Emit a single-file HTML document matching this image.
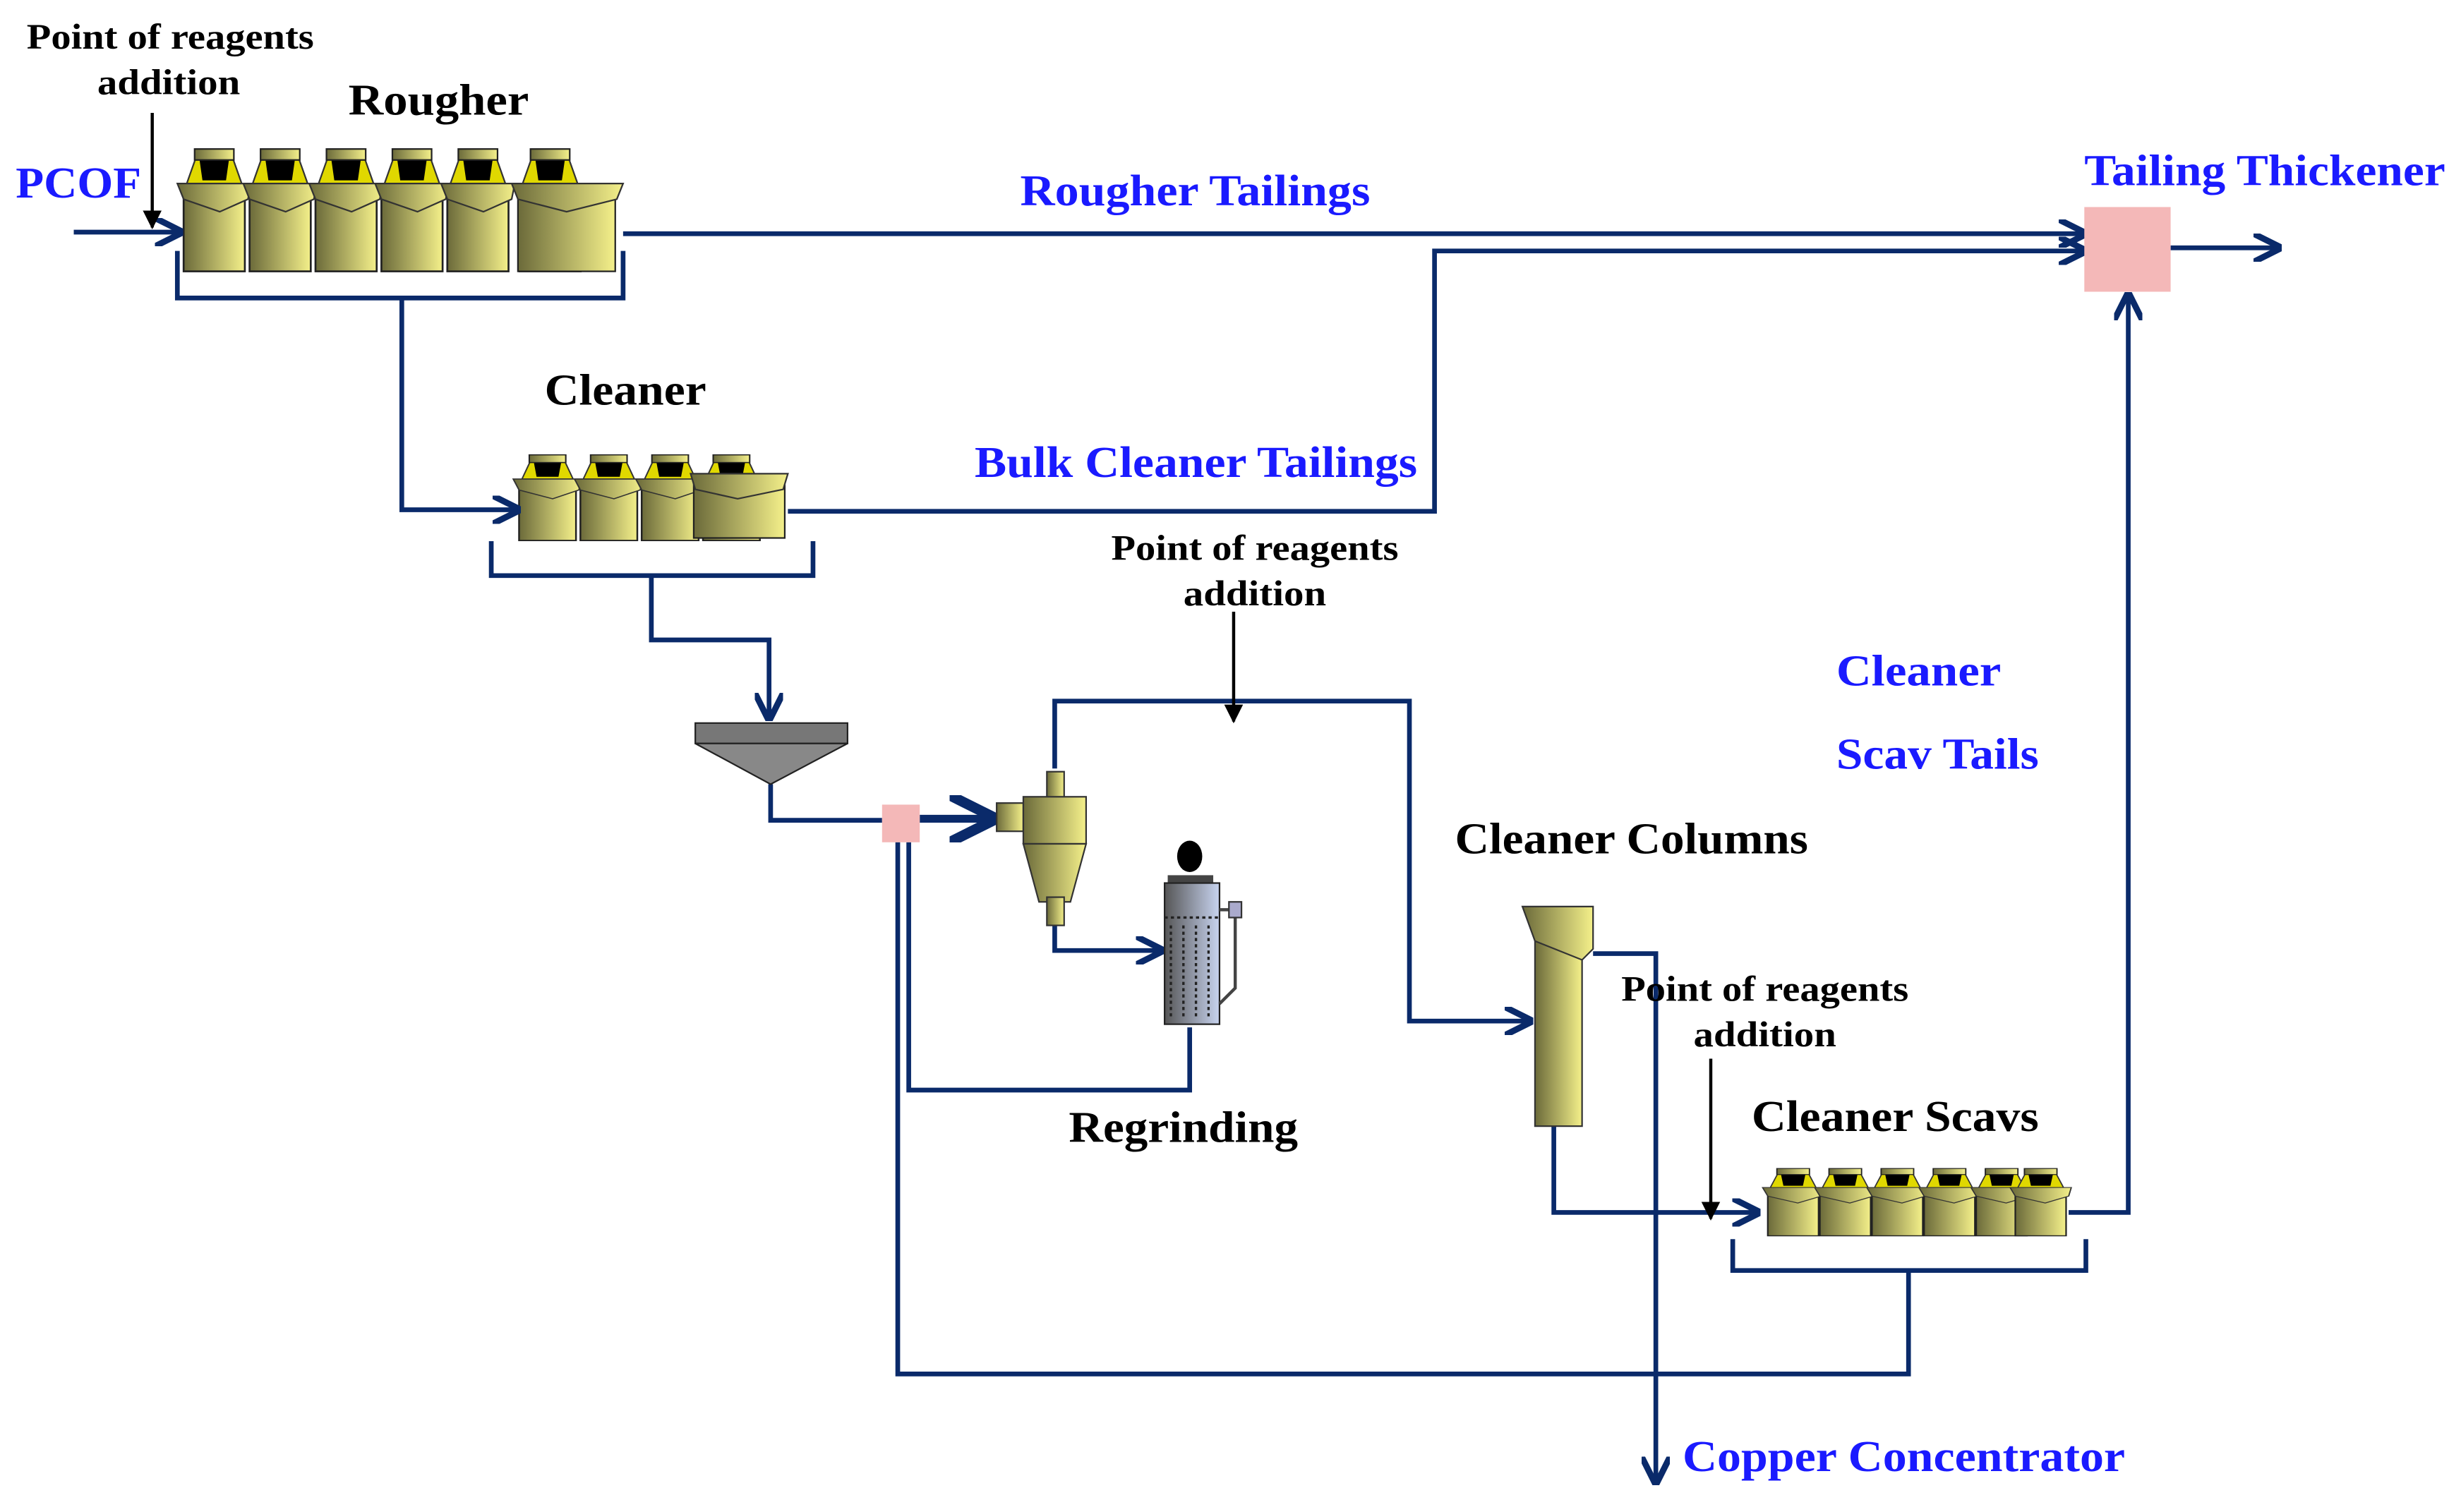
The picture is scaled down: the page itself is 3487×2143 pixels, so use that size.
<!DOCTYPE html>
<html><head><meta charset="utf-8"><style>
html,body{margin:0;padding:0;background:#fff;}
svg{display:block}
text{font-family:"Liberation Serif",serif;font-weight:bold;}
.k{fill:#000;font-size:23px}
.b{fill:#1a1aff;font-size:28px}
.h{fill:#000;font-size:28px}
.ln{stroke:#0a2a6a;stroke-width:3;fill:none}
</style></head><body>
<svg width="3487" height="2143" viewBox="0 0 1568 964" preserveAspectRatio="none">
<defs>
<linearGradient id="g" x1="0" x2="1"><stop offset="0" stop-color="#6b6a3a"/><stop offset="1" stop-color="#f4f08a"/></linearGradient>
<linearGradient id="m" x1="0" x2="1"><stop offset="0" stop-color="#555"/><stop offset="1" stop-color="#c8d4f0"/></linearGradient>
<g id="cell">
<rect x="4" y="28" width="39" height="50" fill="url(#g)" stroke="#222" stroke-width="1.2"/>
<polygon points="6,22 41,22 35,5 12,5" fill="#e0d800" stroke="#333"/>
<polygon points="14,6 33,6 31,20 16,20" fill="#000"/>
<rect x="11" y="0" width="25" height="7" fill="url(#g)" stroke="#222"/>
<polygon points="0,22 47,22 45,32 27,40 4,32" fill="url(#g)" stroke="#333"/>
</g>
<marker id="a" viewBox="0 0 10 10" refX="9" refY="5" markerWidth="6" markerHeight="6" orient="auto"><path d="M0,0 L10,5 L0,10" fill="none" stroke="#0a2a6a" stroke-width="2.2"/></marker>
<marker id="t" viewBox="0 0 10 10" refX="9" refY="5" markerWidth="6" markerHeight="6" orient="auto"><path d="M0,0 L10,5 L0,10 z" fill="#000"/></marker>
</defs>
<!-- rougher -->
<g transform="translate(113,95)"><use href="#cell"/><use href="#cell" x="42"/><use href="#cell" x="84"/><use href="#cell" x="126"/><use href="#cell" x="168"/><use href="#cell" x="214"/></g>
<rect x="330" y="123" width="62" height="50" fill="url(#g)" stroke="#222"/>
<polygon points="326,117 397,117 393,127 361,135 330,127" fill="url(#g)" stroke="#333"/>
<!-- cleaner -->
<g transform="translate(327,290) scale(0.93,0.7)"><use href="#cell"/><use href="#cell" x="42"/><use href="#cell" x="84"/><use href="#cell" x="126"/></g>
<rect x="442" y="306" width="58" height="37" fill="url(#g)" stroke="#222"/>
<polygon points="440,302 502,302 499,312 470,318 443,312" fill="url(#g)" stroke="#333"/>
<!-- scavs -->
<g transform="translate(1123,745) scale(0.83,0.55)"><use href="#cell"/><use href="#cell" x="40"/><use href="#cell" x="80"/><use href="#cell" x="120"/><use href="#cell" x="160"/><use href="#cell" x="190"/></g>
<!-- lines -->
<path class="ln" d="M47,148 H115" marker-end="url(#a)"/>
<path class="ln" d="M397,149 H1328" marker-end="url(#a)"/>
<path class="ln" d="M502,326 H914 V160 H1328" marker-end="url(#a)"/>
<path class="ln" d="M1383,158 H1452" marker-end="url(#a)"/>
<path class="ln" d="M1318,773 H1356 V188" marker-end="url(#a)"/>
<path class="ln" d="M113,160 V190 H397 V160 M256,190 V325 H330" marker-end="url(#a)"/>
<path class="ln" d="M313,345 V367 H518 V345 M415,367 V408 H490 V458" marker-end="url(#a)"/>
<path class="ln" d="M491,500 V523 H562"/>
<path class="ln" d="M586,522 H632" marker-end="url(#a)" style="stroke-width:5"/>
<path class="ln" d="M672,490 V447 H898 V651 H975" marker-end="url(#a)"/>
<path class="ln" d="M672,590 V606 H740" marker-end="url(#a)"/>
<path class="ln" d="M758,655 V695 H579 V537"/>
<path class="ln" d="M572,537 V876 H1216 V810 M1104,790 V810 H1329 V790"/>
<path class="ln" d="M1015,608 H1055 V945" marker-end="url(#a)"/>
<path class="ln" d="M990,718 V773 H1120" marker-end="url(#a)"/>
<path d="M97,72 V145" stroke="#000" stroke-width="2" marker-end="url(#t)"/>
<path d="M786,390 V460" stroke="#000" stroke-width="2" marker-end="url(#t)"/>
<path d="M1090,675 V777" stroke="#000" stroke-width="2" marker-end="url(#t)"/>
<!-- thickener tank -->
<rect x="443" y="461" width="97" height="13" fill="#777" stroke="#222"/>
<polygon points="443,474 540,474 491,500" fill="#888" stroke="#222"/>
<rect x="562" y="513" width="24" height="24" fill="#f4b8b8"/>
<rect x="1328" y="132" width="55" height="54" fill="#f4b8b8"/>
<!-- cyclone -->
<rect x="667" y="492" width="11" height="20" fill="url(#g)" stroke="#333"/>
<rect x="635" y="512" width="17" height="18" fill="url(#g)" stroke="#333"/>
<rect x="652" y="508" width="40" height="30" fill="url(#g)" stroke="#333"/>
<polygon points="652,538 692,538 682,575 662,575" fill="url(#g)" stroke="#333"/>
<rect x="667" y="572" width="11" height="18" fill="url(#g)" stroke="#333"/>
<!-- mill -->
<ellipse cx="758" cy="546" rx="8" ry="10" fill="#000"/>
<rect x="744" y="558" width="29" height="5" fill="#444"/>
<rect x="742" y="563" width="35" height="90" fill="url(#m)" stroke="#222"/>
<path d="M742,585 H777 M746,590 V650 M754,590 V650 M762,590 V650 M770,590 V650" stroke="#222" stroke-width="1.5" stroke-dasharray="2,2"/>
<path d="M777,580 H787 V630 L777,640" stroke="#444" stroke-width="2" fill="none"/>
<rect x="783" y="575" width="8" height="10" fill="#aac" stroke="#333"/>
<!-- column -->
<rect x="978" y="598" width="30" height="120" fill="url(#g)" stroke="#333"/>
<polygon points="970,578 1015,578 1015,605 1008,612 978,600" fill="url(#g)" stroke="#333"/>
<!-- text -->
<text class="k" x="17" y="31" textLength="183" lengthAdjust="spacingAndGlyphs">Point of reagents</text>
<text class="k" x="62" y="60" textLength="91" lengthAdjust="spacingAndGlyphs">addition</text>
<text class="h" x="222" y="73" textLength="115" lengthAdjust="spacingAndGlyphs">Rougher</text>
<text class="b" x="10" y="126" textLength="80" lengthAdjust="spacingAndGlyphs">PCOF</text>
<text class="b" x="650" y="131" textLength="223" lengthAdjust="spacingAndGlyphs">Rougher Tailings</text>
<text class="b" x="1328" y="118" textLength="230" lengthAdjust="spacingAndGlyphs">Tailing Thickener</text>
<text class="h" x="347" y="258" textLength="103" lengthAdjust="spacingAndGlyphs">Cleaner</text>
<text class="b" x="621" y="304" textLength="282" lengthAdjust="spacingAndGlyphs">Bulk Cleaner Tailings</text>
<text class="k" x="708" y="357" textLength="183" lengthAdjust="spacingAndGlyphs">Point of reagents</text>
<text class="k" x="754" y="386" textLength="91" lengthAdjust="spacingAndGlyphs">addition</text>
<text class="b" x="1170" y="437" textLength="105" lengthAdjust="spacingAndGlyphs">Cleaner</text>
<text class="b" x="1170" y="490" textLength="129" lengthAdjust="spacingAndGlyphs">Scav Tails</text>
<text class="h" x="927" y="544" textLength="225" lengthAdjust="spacingAndGlyphs">Cleaner Columns</text>
<text class="k" x="1033" y="638" textLength="183" lengthAdjust="spacingAndGlyphs">Point of reagents</text>
<text class="k" x="1079" y="667" textLength="91" lengthAdjust="spacingAndGlyphs">addition</text>
<text class="h" x="1116" y="721" textLength="183" lengthAdjust="spacingAndGlyphs">Cleaner Scavs</text>
<text class="h" x="681" y="728" textLength="146" lengthAdjust="spacingAndGlyphs">Regrinding</text>
<text class="b" x="1072" y="938" textLength="282" lengthAdjust="spacingAndGlyphs">Copper Concentrator</text>
</svg>
</body></html>
